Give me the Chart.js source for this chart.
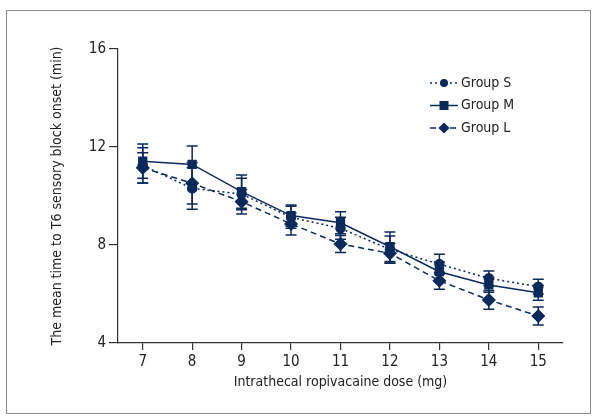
<!DOCTYPE html>
<html>
<head>
<meta charset="utf-8">
<script src="https://cdn.jsdelivr.net/npm/chart.js@4/dist/chart.umd.min.js"></script>
<style>
    html, body { margin: 0; padding: 0; background: #fff; }
    #wrap { position: relative; width: 597px; height: 420px; }
    #frame { position: absolute; left: 6px; top: 10px; width: 583px; height: 402px; border: 1px solid #8a8a8a; pointer-events: none; }
</style>
</head>
<body>
<div id="wrap">
    <canvas id="chart" width="597" height="420"></canvas>
    <div id="frame"></div>
</div>
<script>
const doses = ["7", "8", "9", "10", "11", "12", "13", "14", "15"];
const yTicks = [4, 8, 12, 16];

const groupS = [11.25, 10.31, 10.08, 9.13, 8.68, 7.82, 7.22, 6.64, 6.30];
const groupM = [11.42, 11.29, 10.18, 9.20, 8.91, 7.93, 6.91, 6.37, 6.05];
const groupL = [11.15, 10.52, 9.77, 8.86, 8.04, 7.66, 6.54, 5.76, 5.10];

// error bar half-lengths (SD)
const sdS = [0.72, 0.85, 0.64, 0.45, 0.45, 0.55, 0.40, 0.30, 0.30];
const sdM = [0.70, 0.75, 0.68, 0.43, 0.45, 0.60, 0.40, 0.30, 0.30];
const sdL = [0.62, 0.85, 0.50, 0.45, 0.35, 0.40, 0.35, 0.38, 0.37];

const navy = "#0b2a5c";
const axisColor = "#333";
const font = "'Liberation Sans Narrow', 'DejaVu Sans Condensed', 'Roboto', sans-serif";

// error bars under the markers
const errorBars = {
    id: "errorBars",
    beforeDatasetsDraw(chart) {
        const ctx = chart.ctx;
        const y = chart.scales.y;
        ctx.save();
        ctx.strokeStyle = navy;
        ctx.lineWidth = 1.5;
        chart.data.datasets.forEach((ds, i) => {
            const meta = chart.getDatasetMeta(i);
            meta.data.forEach((pt, j) => {
                const top = y.getPixelForValue(ds.data[j] + ds.sd[j]);
                const bot = y.getPixelForValue(ds.data[j] - ds.sd[j]);
                ctx.beginPath();
                ctx.moveTo(pt.x, top); ctx.lineTo(pt.x, bot);
                ctx.moveTo(pt.x - 5.5, top); ctx.lineTo(pt.x + 5.5, top);
                ctx.moveTo(pt.x - 5.5, bot); ctx.lineTo(pt.x + 5.5, bot);
                ctx.stroke();
            });
        });
        ctx.restore();
    }
};

// legend drawn inside the plot, top right
const lineLegend = {
    id: "lineLegend",
    afterDraw(chart) {
        const ctx = chart.ctx;
        const x0 = 430, x1 = 458, y0 = 83, step = 22.5;
        ctx.save();
        chart.data.datasets.forEach((ds, i) => {
            const yy = y0 + i * step;
            ctx.strokeStyle = navy;
            ctx.lineWidth = 1.5;
            ctx.setLineDash(ds.borderDash || []);
            ctx.beginPath();
            ctx.moveTo(x0, yy); ctx.lineTo(x1, yy);
            ctx.stroke();
            ctx.setLineDash([]);
            ctx.fillStyle = navy;
            const cx = (x0 + x1) / 2;
            ctx.beginPath();
            if (ds.pointStyle === "circle") {
                ctx.arc(cx, yy, 4, 0, Math.PI * 2);
            } else if (ds.pointStyle === "rect") {
                ctx.rect(cx - 4.5, yy - 4.5, 9, 9);
            } else {
                ctx.moveTo(cx, yy - 5.5); ctx.lineTo(cx + 5.5, yy);
                ctx.lineTo(cx, yy + 5.5); ctx.lineTo(cx - 5.5, yy);
                ctx.closePath();
            }
            ctx.fill();
            ctx.fillStyle = "#222";
            ctx.font = "14px " + font;
            ctx.textBaseline = "middle";
            ctx.fillText(ds.label, x1 + 3, yy);
        });
        ctx.restore();
    }
};

new Chart(document.getElementById("chart"), {
    type: "line",
    data: {
        labels: doses,
        datasets: [
            {
                label: "Group S", data: groupS, sd: sdS,
                borderColor: navy, backgroundColor: navy, borderWidth: 1.5,
                borderDash: [2, 3], pointStyle: "circle", pointRadius: 4.5
            },
            {
                label: "Group M", data: groupM, sd: sdM,
                borderColor: navy, backgroundColor: navy, borderWidth: 1.5,
                pointStyle: "rect", pointRadius: 5.5
            },
            {
                label: "Group L", data: groupL, sd: sdL,
                borderColor: navy, backgroundColor: navy, borderWidth: 1.5,
                borderDash: [6, 4], pointStyle: "rectRot", pointRadius: 6
            }
        ]
    },
    options: {
        responsive: false,
        animation: false,
        layout: { padding: { top: 49, right: 34, left: 0, bottom: 0 } },
        elements: { point: { borderWidth: 0 }, line: { tension: 0 } },
        plugins: { legend: { display: false }, tooltip: { enabled: false } },
        scales: {
            x: {
                type: "category",
                offset: true,
                afterFit: s => { s.height = 77; },
                grid: { offset: false, drawOnChartArea: false, drawTicks: true, tickLength: 7, color: axisColor, lineWidth: 1.2 },
                border: { display: true, color: axisColor, width: 1.2 },
                ticks: { color: "#222", padding: 3, font: { family: font, size: 15 } },
                title: { display: true, text: "Intrathecal ropivacaine dose (mg)", color: "#222", padding: { top: 4, bottom: 29 }, font: { family: font, size: 14 } }
            },
            y: {
                min: 4, max: 16,
                afterFit: s => { s.width = 118; },
                afterBuildTicks: s => { s.ticks = yTicks.map(v => ({ value: v })); },
                grid: { drawOnChartArea: false, drawTicks: true, tickLength: 9, color: axisColor, lineWidth: 1.2 },
                border: { display: true, color: axisColor, width: 1.2 },
                ticks: { color: "#222", padding: 3, font: { family: font, size: 15 } },
                title: { display: true, text: "The mean time to T6 sensory block onset (min)", color: "#222", padding: { top: 49 }, font: { family: font, size: 14 } }
            }
        }
    },
    plugins: [errorBars, lineLegend]
});
</script>
</body>
</html>
